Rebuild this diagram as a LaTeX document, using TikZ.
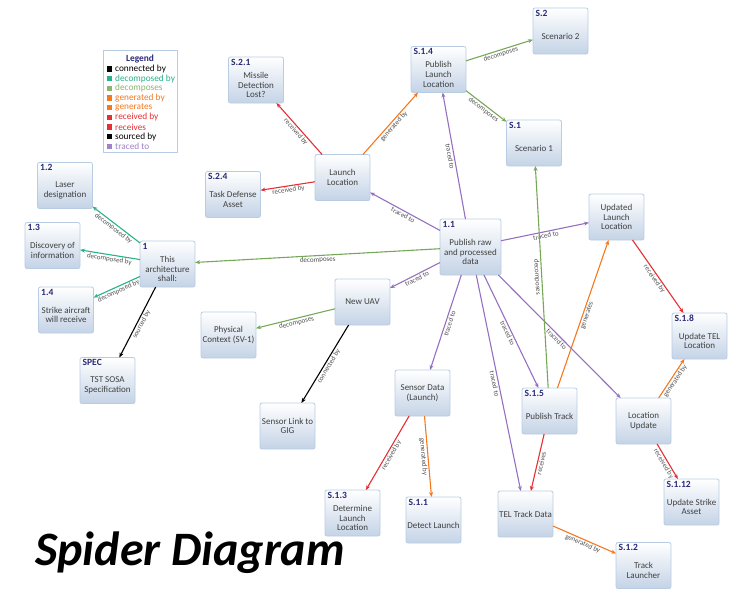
\documentclass[tikz,border=0pt]{standalone}
\usepackage{fontspec}
\setmainfont{Carlito}
\usetikzlibrary{arrows.meta}
\definecolor{cPurple}{RGB}{150,112,192}
\definecolor{cOlive}{RGB}{118,168,88}
\definecolor{cTeal}{RGB}{38,178,138}
\definecolor{cOrange}{RGB}{244,120,32}
\definecolor{cRed}{RGB}{228,48,52}
\definecolor{cNavy}{RGB}{42,42,120}
\definecolor{bodygray}{RGB}{64,64,64}
\definecolor{labgray}{RGB}{80,80,80}
\definecolor{boxline}{RGB}{184,204,228}
\definecolor{boxbot}{RGB}{196,211,230}
\definecolor{lgOlive}{RGB}{140,180,108}
\definecolor{lgPurple}{RGB}{160,130,200}
\tikzset{
  box/.style={draw=boxline, line width=0.8pt, rounded corners=2pt,
    top color=white, middle color=white, bottom color=boxbot,
    minimum width=55pt, minimum height=46pt, inner sep=0pt, outer sep=0pt},
  idtext/.style={font=\fontsize{9.5}{10}\selectfont\bfseries, text=cNavy, inner sep=1pt},
  bodytext/.style={font=\fontsize{9}{9.6}\selectfont, text=bodygray, align=center, inner sep=0pt},
  edge/.style={line width=1.1pt, -{Stealth[length=5pt,width=4pt]}},
  lab/.style={sloped, midway, below, font=\fontsize{7}{7}\selectfont, text=labgray, inner sep=1pt},
  lgtext/.style={font=\fontsize{9.3}{9.6}\selectfont, anchor=west, inner sep=0pt},
}
\newcommand\ibox[5]{%
  \node[box] (#1) at (#2,#3) {};
  \node[idtext, anchor=north west] (#1id) at ([xshift=1.5pt,yshift=-1pt]#1.north west) {#4};
  \node[bodytext] (#1txt) at ([yshift=-5pt]#1.center) {#5};}
\newcommand\pbox[4]{%
  \node[box] (#1) at (#2,#3) {};
  \node[bodytext] (#1txt) at (#1.center) {#4};}
\newcommand\lgitem[4]{%
  \node[fill=#3, minimum size=5.5pt, inner sep=0pt] (#1sq) at (109.5,#2) {};
  \node[lgtext, text=#3] (#1) at (115,#2) {#4};}
\begin{document}
\begin{tikzpicture}[x=1pt,y=-1pt]
\useasboundingbox (0,0) rectangle (743,592);
% legend
\node[draw=boxline, line width=0.8pt, fill=white, minimum width=74pt, minimum height=102pt, inner sep=0pt] (legend) at (140,101.5) {};
\node[font=\fontsize{9.4}{10}\selectfont\bfseries, text=cNavy, inner sep=0pt] (legendtitle) at (140,58.5) {Legend};
\lgitem{lg1}{69}{black}{connected by}
\lgitem{lg2}{78.7}{cTeal}{decomposed by}
\lgitem{lg3}{88.3}{lgOlive}{decomposes}
\lgitem{lg4}{98}{cOrange}{generated by}
\lgitem{lg5}{107.7}{cOrange}{generates}
\lgitem{lg6}{117.3}{cRed}{received by}
\lgitem{lg7}{127}{cRed}{receives}
\lgitem{lg8}{136.7}{black}{sourced by}
\lgitem{lg9}{146.3}{lgPurple}{traced to}
% nodes
\ibox{s21}{256}{80}{S.2.1}{Missile\\Detection\\Lost?}
\ibox{s24}{233}{194.5}{S.2.4}{Task Defense\\Asset}
\pbox{ll}{342.5}{177.5}{Launch\\Location}
\ibox{n12}{65}{185.5}{1.2}{Laser\\designation}
\ibox{n13}{52.5}{245.5}{1.3}{Discovery of\\information}
\ibox{n1}{167.5}{264}{1}{This\\architecture\\shall:}
\ibox{n14}{66}{310}{1.4}{Strike aircraft\\will receive}
\ibox{spec}{107.5}{380.5}{SPEC}{TST SOSA\\Specification}
\pbox{phys}{228.5}{335}{Physical\\Context (SV-1)}
\pbox{uav}{362.5}{302}{New UAV}
\pbox{gig}{287.5}{426}{Sensor Link to\\GIG}
\ibox{s13}{352.5}{513}{S.1.3}{Determine\\Launch\\Location}
\pbox{sd}{422.5}{393}{Sensor Data\\(Launch)}
\ibox{s11}{433.5}{520}{S.1.1}{Detect Launch}
\pbox{tel}{525.5}{514}{TEL Track Data}
\ibox{s15}{549.5}{411}{S.1.5}{Publish Track}
\pbox{lu}{643.5}{421}{Location\\Update}
\ibox{s18}{699.5}{336}{S.1.8}{Update TEL\\Location}
\ibox{s112}{691.5}{502}{S.1.12}{Update Strike\\Asset}
\ibox{s12}{643.5}{565.5}{S.1.2}{Track\\Launcher}
\ibox{s2}{560.5}{31}{S.2}{Scenario 2}
\ibox{s14}{438.5}{69.5}{S.1.4}{Publish\\Launch\\Location}
\ibox{s1}{534}{143}{S.1}{Scenario 1}
\pbox{ull}{616.5}{217}{Updated\\Launch\\Location}
\node[box, minimum width=61pt, minimum height=56pt] (n11) at (470.5,247) {};
\node[idtext, anchor=north west] (n11id) at ([xshift=1.5pt,yshift=-1pt]n11.north west) {1.1};
\node[bodytext] (n11txt) at ([yshift=-5pt]n11.center) {Publish raw\\and processed\\data};
% edges
\draw[edge, cRed] (ll) -- node[lab]{received by} (s21);
\draw[edge, cRed] (ll) -- node[lab]{received by} (s24);
\draw[edge, cOrange] (ll) -- node[lab]{generated by} (s14);
\draw[edge, cOlive] (s14) -- node[lab]{decomposes} (s2);
\draw[edge, cOlive] (s14) -- node[lab]{decomposes} (s1);
\draw[edge, cPurple] (n11) -- node[lab]{traced to} (s14);
\draw[edge, cPurple] (n11) -- node[lab]{traced to} (ll);
\draw[edge, cPurple] (n11) -- node[lab]{traced to} (ull);
\draw[edge, cOlive] (n11) -- node[lab]{decomposes} (n1);
\draw[edge, cPurple] (n11) -- node[lab]{traced to} (uav);
\draw[edge, cPurple] (n11) -- node[lab]{traced to} (sd);
\draw[edge, cPurple] (n11) -- node[lab]{traced to} (tel);
\draw[edge, cPurple] (n11) -- node[lab]{traced to} (s15);
\draw[edge, cPurple] (n11) -- node[lab]{traced to} (lu);
\draw[edge, cOlive] (s15) -- node[lab]{decomposes} (s1);
\draw[edge, cOrange] (s15) -- node[lab]{generates} (ull);
\draw[edge, cRed] (s15) -- node[lab]{receives} (tel);
\draw[edge, cRed] (ull) -- node[lab]{received by} (s18);
\draw[edge, cOrange] (lu) -- node[lab]{generated by} (s18);
\draw[edge, cRed] (lu) -- node[lab]{received by} (s112);
\draw[edge, cOrange] (tel) -- node[lab]{generated by} (s12);
\draw[edge, cOrange] (sd) -- node[lab]{generated by} (s11);
\draw[edge, cRed] (sd) -- node[lab]{received by} (s13);
\draw[edge, cOlive] (uav) -- node[lab]{decomposes} (phys);
\draw[edge, black] (uav) -- node[lab]{connected by} (gig);
\draw[edge, black] (n1) -- node[lab]{sourced by} (spec);
\draw[edge, cTeal] (n1) -- node[lab]{decomposed by} (n12);
\draw[edge, cTeal] (n1) -- node[lab]{decomposed by} (n13);
\draw[edge, cTeal] (n1) -- node[lab]{decomposed by} (n14);
% title
\node[anchor=base west, inner sep=0pt, font=\fontsize{48}{52}\selectfont\bfseries\itshape] (title) at (35,565) {Spider Diagram};
\end{tikzpicture}
\end{document}
